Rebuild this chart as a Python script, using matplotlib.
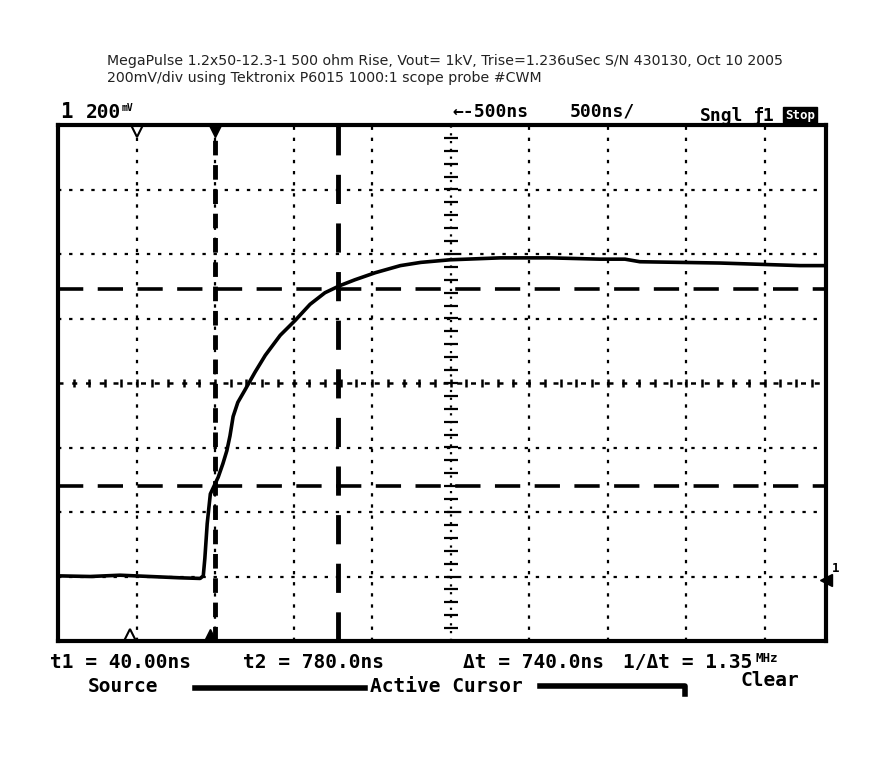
import numpy as np
import matplotlib.pyplot as plt

# scope trace, in divisions (x from left edge, y from centre line)
t_div = [0.0, 0.41, 0.79, 1.17, 1.55, 1.81, 1.85, 1.87, 1.90, 1.94, 1.99, 2.04, 2.10,
         2.15, 2.19, 2.23, 2.29, 2.38, 2.51, 2.64, 2.83, 3.02, 3.21, 3.40, 3.59, 3.78,
         4.04, 4.36, 4.62, 4.99, 5.63, 6.27, 6.90, 7.22, 7.41, 7.92, 8.43, 8.94, 9.45, 9.78]
v_div = [-2.99, -3.00, -2.98, -3.00, -3.02, -3.03, -2.99, -2.72, -2.18, -1.72, -1.59,
         -1.46, -1.25, -1.05, -0.82, -0.52, -0.30, -0.11, 0.17, 0.43, 0.74, 0.97, 1.22,
         1.40, 1.51, 1.60, 1.71, 1.82, 1.87, 1.91, 1.94, 1.94, 1.92, 1.92, 1.88, 1.87,
         1.86, 1.84, 1.82, 1.82]

cursor_t = [2.0, 3.57]       # t1, t2
cursor_v = [1.455, -1.59]

header = ["MegaPulse 1.2x50-12.3-1 500 ohm Rise, Vout= 1kV, Trise=1.236uSec S/N 430130, Oct 10 2005",
          "200mV/div using Tektronix P6015 1000:1 scope probe #CWM"]
readout = ["t1 = 40.00ns", "t2 = 780.0ns", "\u0394t = 740.0ns", "1/\u0394t = 1.35"]
readout_x = [50, 243, 463, 623]

W, H = 896, 768
fig = plt.figure(figsize=(W / 100, H / 100), dpi=100)
ax = fig.add_axes([58 / W, 1 - 641 / H, 768 / W, 516 / H])
ax.set_xlim(0, 9.78)
ax.set_ylim(-4, 4)
ax.set_xticks([])
ax.set_yticks([])
for s in ax.spines.values():
    s.set_linewidth(3)

# graticule
for x in range(1, 10):
    if x == 5:
        continue
    ax.axvline(x, color='k', lw=1.6, ls=(0, (1.5, 3.5)))
for y in range(-3, 4):
    if y == 0:
        continue
    ax.axhline(y, color='k', lw=1.6, ls=(0, (1.5, 3.5)))
ax.axvline(5, color='k', lw=1.6, ls=(0, (1, 2.5)))
ax.axhline(0, color='k', lw=1.8, ls=(0, (2, 3.5)))
minor_y = np.arange(-4, 4.01, 0.2)
ax.plot(np.full(len(minor_y), 5.0), minor_y, ls='none', marker='_', ms=10, mew=1.6, color='k')
minor_x = np.arange(0.2, 9.7, 0.2)
ax.plot(minor_x, np.zeros(len(minor_x)), ls='none', marker='|', ms=6, mew=1.8, color='k')

# cursors
ax.axvline(cursor_t[0], color='k', lw=3.5, ls=(0, (3, 2)))
ax.axvline(cursor_t[1], color='k', lw=3.5, ls=(0, (6, 4)))
for v in cursor_v:
    ax.axhline(v, color='k', lw=2.6, ls=(0, (7, 4)))

# trigger markers
ax.plot([1.0], [3.9], marker='v', ms=8, mfc='white', mec='k', mew=1.5, clip_on=False)
ax.plot([2.0], [3.9], marker='v', ms=9, color='k', clip_on=False)
ax.plot([0.92], [-3.9], marker='^', ms=8, mfc='white', mec='k', mew=1.5, clip_on=False)
ax.plot([1.94], [-3.9], marker='^', ms=9, color='k', clip_on=False)

# trace
ax.plot(t_div, v_div, color='k', lw=2.6, solid_joinstyle='round')


def ftext(px, py, s, **kw):
    fig.text(px / W, 1 - py / H, s, va='center', **kw)


for i, line in enumerate(header):
    ftext(107, 61 + 17 * i, line, fontsize=10.2, family='Liberation Sans Narrow', color='#222222')

mono = dict(family='DejaVu Sans Mono', fontweight='bold')
ftext(60, 112, "1", fontsize=15, **mono)
ftext(86, 112, "200", fontsize=14, **mono)
ftext(122, 108, "mV", fontsize=7, **mono)
ftext(452, 112, "\u2190-500ns", fontsize=13, **mono)
ftext(570, 112, "500ns/", fontsize=13, **mono)
ftext(700, 116, "Sngl", fontsize=13, **mono)
ftext(752, 116, "\u01921", fontsize=13, **mono)
ftext(785, 116, "Stop", fontsize=9, color='white',
      bbox=dict(facecolor='k', edgecolor='k', pad=1.5), **mono)

for s, x in zip(readout, readout_x):
    ftext(x, 662, s, fontsize=14, **mono)
ftext(755, 658, "MHz", fontsize=9, **mono)
ftext(88, 686, "Source", fontsize=14, **mono)
ftext(370, 686, "Active Cursor", fontsize=14, **mono)
ftext(740, 681, "Clear", fontsize=14, **mono)
fig.add_artist(plt.Line2D([195 / W, 365 / W], [1 - 688 / H] * 2, color='k', lw=4))
fig.add_artist(plt.Line2D([540 / W, 685 / W, 685 / W], [1 - 686 / H, 1 - 686 / H, 1 - 694 / H],
                          color='k', lw=4))

# channel ground marker on the right edge
ftext(832, 568, "1", fontsize=9, **mono)
ax.plot([9.78], [-3.05], marker='<', ms=8, color='k', clip_on=False)

fig.savefig('out.png', dpi=100)
